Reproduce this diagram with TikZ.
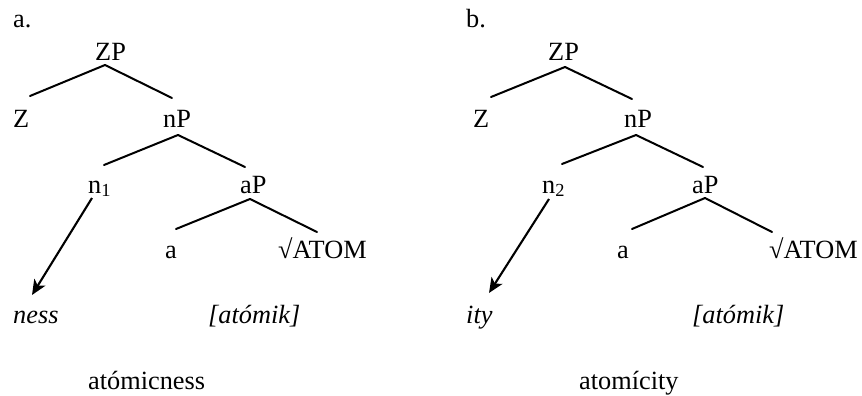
\documentclass[tikz,border=0pt]{standalone}
\usepackage{fontspec}
\setmainfont{Liberation Serif}
\usetikzlibrary{arrows.meta}
\tikzset{
  word/.style={inner sep=0pt,anchor=base west},
  branch/.style={line width=2pt,line cap=round},
  spellout/.style={-{Stealth[length=15pt,width=13pt,inset=4pt]},line width=2.1pt}
}

\begin{document}
\begin{tikzpicture}[x=1pt,y=1pt,font=\fontsize{26.3}{30}\selectfont]
  \useasboundingbox (0,0) rectangle (862,-396);
  % (a) -ness
  \node[word] (tagA) at (13,-28) {a.};
  \node[word] (ZPa) at (95,-60) {ZP};
  \node[word] (Za) at (13,-127) {Z};
  \node[word] (nPa) at (163,-127) {nP};
  \node[word] (na) at (88,-193) {n\textsubscript{1}};
  \node[word] (aPa) at (240,-193) {aP};
  \node[word] (aa) at (165,-258) {a};
  \node[word] (roota) at (278,-258) {√ATOM};
  \node[word] (nessa) at (13,-323) {\textit{ness}};
  \node[word] (atomika) at (208,-323) {\textit{[atómik]}};
  \node[word] (worda) at (88,-389) {atómicness};
  \draw[branch] ([shift={(10,-5)}]ZPa.base west) -- ([shift={(17,31)}]Za.base west);
  \draw[branch] ([shift={(10,-5)}]ZPa.base west) -- ([shift={(9,29)}]nPa.base west);
  \draw[branch] ([shift={(15,-8)}]nPa.base west) -- ([shift={(16,28)}]na.base west);
  \draw[branch] ([shift={(15,-8)}]nPa.base west) -- ([shift={(5,26)}]aPa.base west);
  \draw[branch] ([shift={(10,-6)}]aPa.base west) -- ([shift={(11,29)}]aa.base west);
  \draw[branch] ([shift={(10,-6)}]aPa.base west) -- ([shift={(39,26)}]roota.base west);
  \draw[spellout] ([shift={(4,-5)}]na.base west) -- ([shift={(19,28)}]nessa.base west);
  % (b) -ity
  \node[word] (tagB) at (466,-28) {b.};
  \node[word] (ZPb) at (548,-60) {ZP};
  \node[word] (Zb) at (473,-127) {Z};
  \node[word] (nPb) at (624,-127) {nP};
  \node[word] (nb) at (542,-193) {n\textsubscript{2}};
  \node[word] (aPb) at (692,-193) {aP};
  \node[word] (ab) at (617,-258) {a};
  \node[word] (rootb) at (769,-258) {√ATOM};
  \node[word] (ityb) at (466,-323) {\textit{ity}};
  \node[word] (atomikb) at (692,-323) {\textit{[atómik]}};
  \node[word] (wordb) at (579,-389) {atomícity};
  \draw[branch] ([shift={(17,-7)}]ZPb.base west) -- ([shift={(18,30)}]Zb.base west);
  \draw[branch] ([shift={(17,-7)}]ZPb.base west) -- ([shift={(8,28)}]nPb.base west);
  \draw[branch] ([shift={(12,-8)}]nPb.base west) -- ([shift={(20,29)}]nb.base west);
  \draw[branch] ([shift={(12,-8)}]nPb.base west) -- ([shift={(11,26)}]aPb.base west);
  \draw[branch] ([shift={(13,-5)}]aPb.base west) -- ([shift={(15,29)}]ab.base west);
  \draw[branch] ([shift={(13,-5)}]aPb.base west) -- ([shift={(3,26)}]rootb.base west);
  \draw[spellout] ([shift={(7,-6)}]nb.base west) -- ([shift={(23,30)}]ityb.base west);
\end{tikzpicture}
\end{document}
